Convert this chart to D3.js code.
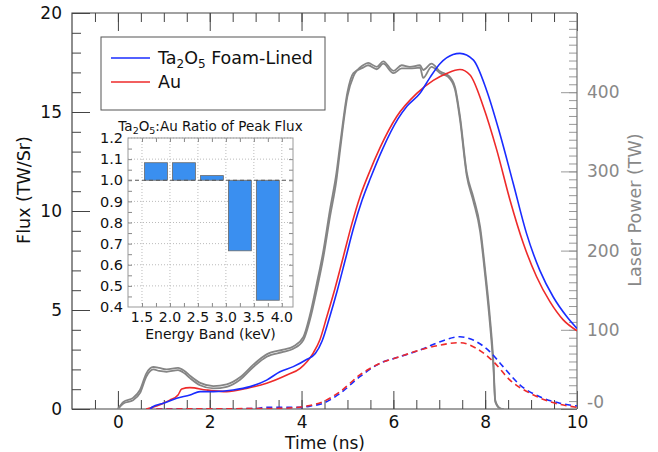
<!DOCTYPE html>
<html>
<head>
<meta charset="utf-8">
<script src="https://cdn.jsdelivr.net/npm/d3@7"></script>
<style>
  body { margin: 0; background: #fff; }
  svg { display: block; font-family: "DejaVu Sans", sans-serif; }
</style>
</head>
<body>
<svg id="chart" width="658" height="452"></svg>
<script>
// flux curves, [time (ns), flux (TW/Sr)]
const ta2o5Total = [[0.7,0],[0.75,0.1],[0.99,0.29],[1.28,0.54],[1.57,0.71],[1.79,0.88],[2.08,0.88],[2.51,0.96],[2.88,1.13],[3.24,1.46],[3.53,1.88],[3.82,2.14],[4.11,2.5],[4.3,2.8],[4.45,3.45],[4.6,4.55],[4.78,6.0],[4.96,7.6],[5.14,9.2],[5.32,10.55],[5.5,11.65],[5.76,13.1],[6.1,14.65],[6.3,15.3],[6.58,15.95],[6.8,16.75],[7.02,17.45],[7.3,17.9],[7.45,17.96],[7.74,17.63],[8.03,16.1],[8.32,13.9],[8.61,11.4],[8.9,8.87],[9.19,7.0],[9.48,5.67],[9.78,4.66],[10,4.07]];
const auTotal = [[0.62,0],[0.99,0.29],[1.13,0.45],[1.31,0.71],[1.39,1.01],[1.57,1.08],[1.93,0.96],[2.37,0.88],[2.8,1.04],[3.24,1.3],[3.68,1.72],[3.97,2.05],[4.25,2.81],[4.4,3.5],[4.55,4.66],[4.73,6.1],[4.91,7.69],[5.09,9.3],[5.27,10.7],[5.45,11.8],[5.71,13.2],[6.07,14.76],[6.51,15.94],[6.87,16.6],[7.16,16.95],[7.45,17.15],[7.67,16.87],[7.96,15.27],[8.25,13.1],[8.54,10.56],[8.83,8.37],[9.12,6.68],[9.41,5.42],[9.7,4.5],[10,3.95]];
const ta2o5Band = [[0.62,0],[3.0,0.02],[3.2,0.08],[3.97,0.08],[4.2,0.15],[4.47,0.29],[4.84,0.79],[5.27,1.63],[5.71,2.31],[6.14,2.64],[6.58,2.98],[7.02,3.4],[7.45,3.65],[7.74,3.48],[8.1,2.9],[8.39,2.14],[8.76,1.21],[9.19,0.62],[9.63,0.29],[10,0.15]];
const auBand = [[0.62,0],[3.5,0.03],[4.11,0.15],[4.47,0.37],[4.84,0.88],[5.27,1.72],[5.71,2.31],[6.14,2.64],[6.58,2.98],[7.02,3.23],[7.45,3.35],[7.81,3.06],[8.18,2.39],[8.54,1.46],[8.98,0.79],[9.41,0.37],[10,0.08]];

// laser power, [time (ns), power (TW)], two shots
const laserA = [[0,0],[0.12,7],[0.33,11],[0.48,20],[0.62,41],[0.77,50],[0.9,48],[1.06,47],[1.31,49],[1.45,45],[1.57,39],[1.79,30],[2.08,26],[2.37,28],[2.66,37],[2.95,53],[3.24,66],[3.6,72],[3.82,76],[4.04,87],[4.18,112],[4.33,150],[4.47,190],[4.62,243],[4.76,289],[4.84,327],[5.0,395],[5.13,420],[5.34,434],[5.45,437],[5.64,432],[5.78,439],[6.0,427],[6.18,434],[6.36,432],[6.58,434],[6.65,428],[6.83,436],[7.02,426],[7.2,421],[7.34,407],[7.45,370],[7.6,298],[7.74,268],[7.89,230],[8.0,175],[8.1,118],[8.18,58],[8.22,11],[8.32,1],[8.4,0]];
const laserB = [[0,0],[0.12,9],[0.33,14],[0.48,24],[0.62,45],[0.77,53],[0.9,52],[1.06,50],[1.31,52],[1.45,48],[1.57,42],[1.79,33],[2.08,29],[2.37,31],[2.66,40],[2.95,56],[3.24,69],[3.6,75],[3.82,79],[4.04,91],[4.18,118],[4.33,158],[4.47,198],[4.62,252],[4.76,298],[4.84,334],[5.0,400],[5.13,424],[5.34,431],[5.45,434],[5.64,429],[5.78,436],[6.0,424],[6.18,430],[6.36,430],[6.58,431],[6.65,418],[6.83,432],[7.02,424],[7.2,419],[7.34,404],[7.45,366],[7.6,294],[7.74,263],[7.89,224],[8.0,168],[8.1,110],[8.18,52],[8.22,9],[8.32,1],[8.4,0]];

// inset: ratio of peak flux per energy band
const bandLow = [1.5, 2.0, 2.5, 3.0, 3.5];
const bandHigh = [2.0, 2.5, 3.0, 3.5, 4.0];
const peakRatio = [1.083, 1.083, 1.022, 0.666, 0.432];

const xTicks = [0, 2, 4, 6, 8, 10];
const fluxTicks = [0, 5, 10, 15, 20];
const powerTicks = [0, 100, 200, 300, 400];
const insetXTicks = [1.5, 2.0, 2.5, 3.0, 3.5, 4.0];
const insetYTicks = [0.4, 0.5, 0.6, 0.7, 0.8, 0.9, 1.0, 1.1, 1.2];

const svg = d3.select("#chart");
const plot = { left: 72, right: 577, top: 13, bottom: 409 };

const x = d3.scaleLinear().domain([-1, 10]).range([plot.left, plot.right]);
const y = d3.scaleLinear().domain([0, 20]).range([plot.bottom, plot.top]);
const yPower = d3.scaleLinear().domain([0, 500]).range([plot.bottom, plot.top]);

svg.append("rect").attr("width", 658).attr("height", 452).attr("fill", "#fff");

svg.append("defs").append("clipPath").attr("id", "clip")
    .append("rect")
    .attr("x", plot.left).attr("y", plot.top)
    .attr("width", plot.right - plot.left).attr("height", plot.bottom - plot.top);

const strip = g => g.select(".domain").remove();

// minor / major ticks, all pointing inward
svg.append("g").attr("transform", `translate(0,${plot.bottom})`)
    .call(d3.axisBottom(x).tickValues(d3.range(-0.5, 10, 0.5)).tickSize(-9).tickFormat(""))
    .call(strip).selectAll("line").attr("stroke", "#444");
svg.append("g").attr("transform", `translate(0,${plot.bottom})`)
    .call(d3.axisBottom(x).tickValues(xTicks).tickSize(-18).tickPadding(7).tickFormat(d3.format("d")))
    .call(strip)
    .call(g => g.selectAll("line").attr("stroke", "#444"))
    .call(g => g.selectAll("text").attr("font-size", 17).attr("fill", "#111").attr("font-family", "DejaVu Sans"));

svg.append("g").attr("transform", `translate(0,${plot.top})`)
    .call(d3.axisTop(x).tickValues(d3.range(-0.5, 10, 0.5)).tickSize(-9).tickFormat(""))
    .call(strip).selectAll("line").attr("stroke", "#444");
svg.append("g").attr("transform", `translate(0,${plot.top})`)
    .call(d3.axisTop(x).tickValues(xTicks).tickSize(-18).tickFormat(""))
    .call(strip).selectAll("line").attr("stroke", "#444");

svg.append("g").attr("transform", `translate(${plot.left},0)`)
    .call(d3.axisLeft(y).tickValues(d3.range(1, 20, 1)).tickSize(-9).tickFormat(""))
    .call(strip).selectAll("line").attr("stroke", "#444");
svg.append("g").attr("transform", `translate(${plot.left},0)`)
    .call(d3.axisLeft(y).tickValues(fluxTicks).tickSize(-18).tickPadding(10).tickFormat(d3.format("d")))
    .call(strip)
    .call(g => g.selectAll("line").attr("stroke", "#444"))
    .call(g => g.selectAll("text").attr("font-size", 17).attr("fill", "#111").attr("font-family", "DejaVu Sans"));

svg.append("g").attr("transform", `translate(${plot.right},0)`)
    .call(d3.axisRight(yPower).tickValues(d3.range(10, 500, 10)).tickSize(-8).tickFormat(""))
    .call(strip).selectAll("line").attr("stroke", "#999");
svg.append("g").attr("transform", `translate(${plot.right},0)`)
    .call(d3.axisRight(yPower).tickValues(powerTicks).tickSize(-16).tickPadding(10)
        .tickFormat(d => d === 0 ? "-0" : d))
    .call(strip)
    .call(g => g.selectAll("line").attr("stroke", "#999"))
    .call(g => g.selectAll("text").attr("font-size", 17).attr("fill", "#888").attr("font-family", "DejaVu Sans"))
    .call(g => g.selectAll(".tick").filter(d => d === 0).select("text").attr("dy", "-0.1em"));

// frame
svg.append("path")
    .attr("d", `M${plot.right},${plot.top}H${plot.left}V${plot.bottom}H${plot.right}`)
    .attr("fill", "none").attr("stroke", "#444").attr("stroke-width", 1.2);
svg.append("line")
    .attr("x1", plot.right).attr("x2", plot.right).attr("y1", plot.top).attr("y2", plot.bottom)
    .attr("stroke", "#777").attr("stroke-width", 1.2);

// axis titles
svg.append("text").attr("x", 325).attr("y", 449).attr("text-anchor", "middle")
    .attr("font-size", 17).attr("fill", "#111").text("Time (ns)");
svg.append("text").attr("transform", "translate(30,190) rotate(-90)").attr("text-anchor", "middle")
    .attr("font-size", 17.5).attr("fill", "#111").text("Flux (TW/Sr)");
svg.append("text").attr("transform", "translate(641,210) rotate(-90)").attr("text-anchor", "middle")
    .attr("font-size", 17.5).attr("fill", "#888").text("Laser Power (TW)");

// curves
const lines = svg.append("g").attr("clip-path", "url(#clip)");
const fluxLine = d3.line().x(d => x(d[0])).y(d => y(d[1])).curve(d3.curveMonotoneX);
const powerLine = d3.line().x(d => x(d[0])).y(d => yPower(d[1])).curve(d3.curveMonotoneX);

lines.selectAll("path.laser")
    .data([laserA, laserB])
    .join("path")
    .attr("class", "laser")
    .attr("d", powerLine)
    .attr("fill", "none").attr("stroke", "#858585").attr("stroke-width", 1.8);

const fluxSeries = [
    { data: ta2o5Band, color: "#1a2cff", dash: "6,4" },
    { data: auBand, color: "#ee2a2a", dash: "6,4" },
    { data: auTotal, color: "#ee2a2a", dash: null },
    { data: ta2o5Total, color: "#1a2cff", dash: null }
];
lines.selectAll("path.flux")
    .data(fluxSeries)
    .join("path")
    .attr("class", "flux")
    .attr("d", d => fluxLine(d.data))
    .attr("fill", "none")
    .attr("stroke", d => d.color)
    .attr("stroke-width", 1.6)
    .attr("stroke-dasharray", d => d.dash);

// legend
const legend = svg.append("g");
legend.append("rect").attr("x", 101).attr("y", 37).attr("width", 224).attr("height", 73)
    .attr("fill", "#fff").attr("stroke", "#555").attr("stroke-width", 1);
const legendItems = [
    { color: "#1a2cff", parts: [["Ta"], ["2", "sub"], ["O"], ["5", "sub"], [" Foam-Lined"]] },
    { color: "#ee2a2a", parts: [["Au"]] }
];
legendItems.forEach((item, i) => {
    const ly = 58 + i * 24;
    legend.append("line").attr("x1", 111).attr("x2", 150).attr("y1", ly).attr("y2", ly)
        .attr("stroke", item.color).attr("stroke-width", 1.6);
    const t = legend.append("text").attr("x", 158).attr("y", ly + 6).attr("font-size", 17.5).attr("fill", "#111");
    let shifted = false;
    item.parts.forEach(([s, kind]) => {
        const span = t.append("tspan").text(s);
        if (kind === "sub") { span.attr("font-size", 12).attr("dy", 4); shifted = true; }
        else if (shifted) { span.attr("dy", -4); shifted = false; }
    });
});

// inset bar chart
const inset = { left: 128, right: 293, top: 138, bottom: 307 };
const ix = d3.scaleLinear().domain([1.25, 4.2]).range([inset.left, inset.right]);
const iy = d3.scaleLinear().domain([0.4, 1.2]).range([inset.bottom, inset.top]);
const ig = svg.append("g");

ig.append("rect").attr("x", inset.left).attr("y", inset.top)
    .attr("width", inset.right - inset.left).attr("height", inset.bottom - inset.top)
    .attr("fill", "#fff");

ig.selectAll("line.vgrid").data(insetXTicks).join("line").attr("class", "vgrid")
    .attr("x1", d => ix(d)).attr("x2", d => ix(d)).attr("y1", inset.top).attr("y2", inset.bottom)
    .attr("stroke", "#bbb").attr("stroke-dasharray", "1,2");
ig.selectAll("line.hgrid").data(insetYTicks.filter(d => d > 0.4 && d !== 1.0)).join("line").attr("class", "hgrid")
    .attr("x1", inset.left).attr("x2", inset.right).attr("y1", d => iy(d)).attr("y2", d => iy(d))
    .attr("stroke", "#bbb").attr("stroke-dasharray", "1,2");

const bars = peakRatio.map((r, i) => ({ lo: bandLow[i], hi: bandHigh[i], r }));
ig.selectAll("rect.bar").data(bars).join("rect").attr("class", "bar")
    .attr("x", d => ix((d.lo + d.hi) / 2 - 0.205))
    .attr("width", d => ix(0.41) - ix(0))
    .attr("y", d => iy(Math.max(d.r, 1)))
    .attr("height", d => Math.abs(iy(d.r) - iy(1)))
    .attr("fill", "#3a8ff0").attr("stroke", "#6a6a6a").attr("stroke-width", 0.8);

ig.append("line").attr("x1", inset.left).attr("x2", inset.right).attr("y1", iy(1)).attr("y2", iy(1))
    .attr("stroke", "#555").attr("stroke-dasharray", "4,3").attr("stroke-width", 1);

// inset ticks (inward on all sides)
const insetTick = (axis, tr) => ig.append("g").attr("transform", tr).call(axis).call(strip)
    .call(g => g.selectAll("line").attr("stroke", "#888"));
insetTick(d3.axisLeft(iy).tickValues(d3.range(0.45, 1.2, 0.05)).tickSize(-4).tickFormat(""), `translate(${inset.left},0)`);
insetTick(d3.axisRight(iy).tickValues(d3.range(0.45, 1.2, 0.05)).tickSize(-4).tickFormat(""), `translate(${inset.right},0)`);
insetTick(d3.axisBottom(ix).tickValues(d3.range(1.5, 4.25, 0.25)).tickSize(-4).tickFormat(""), `translate(0,${inset.bottom})`);
insetTick(d3.axisTop(ix).tickValues(d3.range(1.5, 4.25, 0.25)).tickSize(-4).tickFormat(""), `translate(0,${inset.top})`);

ig.append("rect").attr("x", inset.left).attr("y", inset.top)
    .attr("width", inset.right - inset.left).attr("height", inset.bottom - inset.top)
    .attr("fill", "none").attr("stroke", "#999").attr("stroke-width", 1);

ig.selectAll("text.ylab").data(insetYTicks).join("text").attr("class", "ylab")
    .attr("x", inset.left - 5).attr("y", d => iy(d)).attr("dy", "0.36em")
    .attr("text-anchor", "end").attr("font-size", 14.5).attr("fill", "#111")
    .text(d => d3.format(".1f")(d));
ig.selectAll("text.xlab").data(insetXTicks).join("text").attr("class", "xlab")
    .attr("x", d => ix(d)).attr("y", inset.bottom + 15)
    .attr("text-anchor", "middle").attr("font-size", 14).attr("fill", "#111")
    .text(d => d3.format(".1f")(d));
ig.append("text").attr("x", (inset.left + inset.right) / 2).attr("y", inset.bottom + 32)
    .attr("text-anchor", "middle").attr("font-size", 14).attr("fill", "#111").text("Energy Band (keV)");

const title = ig.append("text").attr("x", (inset.left + inset.right) / 2).attr("y", inset.top - 7.5)
    .attr("text-anchor", "middle").attr("font-size", 13.5).attr("fill", "#111");
title.append("tspan").text("Ta");
title.append("tspan").text("2").attr("font-size", 9.5).attr("dy", 3);
title.append("tspan").text("O").attr("dy", -3);
title.append("tspan").text("5").attr("font-size", 9.5).attr("dy", 3);
title.append("tspan").text(":Au Ratio of Peak Flux").attr("dy", -3);
</script>
</body>
</html>
